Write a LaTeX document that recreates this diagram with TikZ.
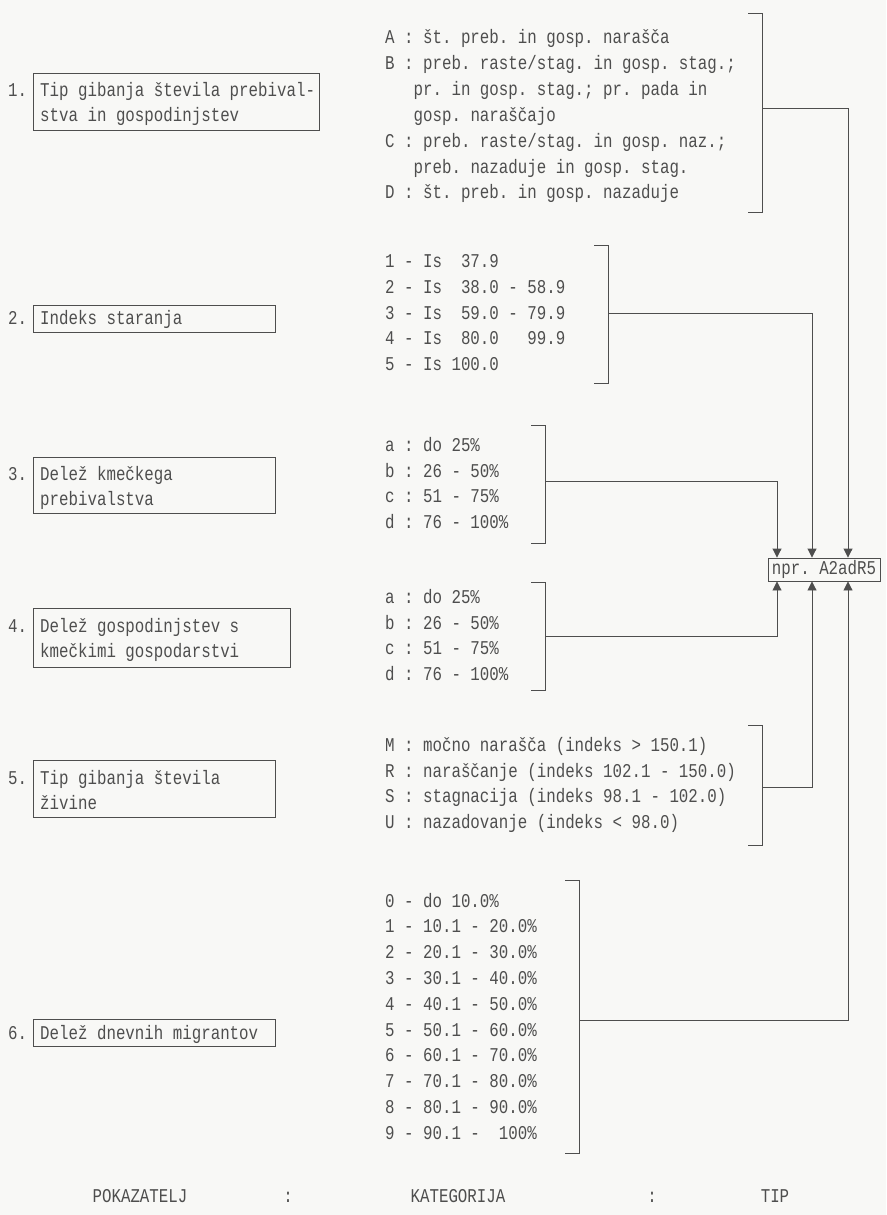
\documentclass[tikz,border=0pt]{standalone}
\usepackage{fontspec}
\setmonofont{Liberation Mono}[FakeStretch=0.81]
\usetikzlibrary{arrows.meta}
\definecolor{ink}{HTML}{4E4E4E}
\definecolor{paper}{HTML}{F8F8F6}
\begin{document}
\begin{tikzpicture}[x=1pt,y=-1pt,
  txt/.style={anchor=base west, inner sep=0pt, text=ink, font=\ttfamily\fontsize{19.5}{24}\selectfont},
  lbl/.style={anchor=base, inner sep=0pt, text=ink, font=\ttfamily\fontsize{19.5}{24}\selectfont},
  pbox/.style={draw=ink, line width=0.9pt, anchor=north west, inner sep=0pt},
  brk/.style={draw=ink, line width=0.9pt},
  conn/.style={draw=ink, line width=0.9pt},
  arr/.style={conn, -{Triangle[width=9pt,length=9pt]}}]
\useasboundingbox[fill=paper] (0,0) rectangle (886,1215);

% ---------- indicator boxes ----------
\node[pbox, minimum width=286pt, minimum height=57pt] (p1) at (33,73) {};
\node[txt] (n1) at (8,96) {1.};
\node[txt] (p1a) at (40,96) {Tip gibanja števila prebival-};
\node[txt] (p1b) at (40,121.5) {stva in gospodinjstev};

\node[pbox, minimum width=242pt, minimum height=27pt] (p2) at (33,305) {};
\node[txt] (n2) at (8,324.5) {2.};
\node[txt] (p2a) at (40,324.5) {Indeks staranja};

\node[pbox, minimum width=242pt, minimum height=56pt] (p3) at (33,457) {};
\node[txt] (n3) at (8,480) {3.};
\node[txt] (p3a) at (40,480) {Delež kmečkega};
\node[txt] (p3b) at (40,505.5) {prebivalstva};

\node[pbox, minimum width=257pt, minimum height=59pt] (p4) at (33,608) {};
\node[txt] (n4) at (8,632) {4.};
\node[txt] (p4a) at (40,632) {Delež gospodinjstev s};
\node[txt] (p4b) at (40,657.5) {kmečkimi gospodarstvi};

\node[pbox, minimum width=242pt, minimum height=57pt] (p5) at (33,760) {};
\node[txt] (n5) at (8,784) {5.};
\node[txt] (p5a) at (40,784) {Tip gibanja števila};
\node[txt] (p5b) at (40,809.5) {živine};

\node[pbox, minimum width=242pt, minimum height=27pt] (p6) at (33,1019) {};
\node[txt] (n6) at (8,1039) {6.};
\node[txt] (p6a) at (40,1039) {Delež dnevnih migrantov};

% ---------- category lists ----------
\foreach \t [count=\i from 0] in {
  {A : št. preb. in gosp. narašča},
  {B : preb. raste/stag. in gosp. stag.;},
  {~~~pr. in gosp. stag.; pr. pada in},
  {~~~gosp. naraščajo},
  {C : preb. raste/stag. in gosp. naz.;},
  {~~~preb. nazaduje in gosp. stag.},
  {D : št. preb. in gosp. nazaduje}}
  \node[txt] (ga-\i) at (385,{44+25.8*\i}) {\t};

\foreach \t [count=\i from 0] in {
  {1 - Is~~37.9},
  {2 - Is~~38.0 - 58.9},
  {3 - Is~~59.0 - 79.9},
  {4 - Is~~80.0~~~99.9},
  {5 - Is 100.0}}
  \node[txt] (gb-\i) at (385,{267.4+25.8*\i}) {\t};

\foreach \t [count=\i from 0] in {
  {a : do 25\%},{b : 26 - 50\%},{c : 51 - 75\%},{d : 76 - 100\%}}
  \node[txt] (gc-\i) at (385,{451.3+25.8*\i}) {\t};

\foreach \t [count=\i from 0] in {
  {a : do 25\%},{b : 26 - 50\%},{c : 51 - 75\%},{d : 76 - 100\%}}
  \node[txt] (gd-\i) at (385,{603.3+25.8*\i}) {\t};

\foreach \t [count=\i from 0] in {
  {M : močno narašča (indeks > 150.1)},
  {R : naraščanje (indeks 102.1 - 150.0)},
  {S : stagnacija (indeks 98.1 - 102.0)},
  {U : nazadovanje (indeks < 98.0)}}
  \node[txt] (ge-\i) at (385,{751.3+25.8*\i}) {\t};

\foreach \t [count=\i from 0] in {
  {0 - do 10.0\%},
  {1 - 10.1 - 20.0\%},
  {2 - 20.1 - 30.0\%},
  {3 - 30.1 - 40.0\%},
  {4 - 40.1 - 50.0\%},
  {5 - 50.1 - 60.0\%},
  {6 - 60.1 - 70.0\%},
  {7 - 70.1 - 80.0\%},
  {8 - 80.1 - 90.0\%},
  {9 - 90.1 -~~100\%}}
  \node[txt] (gf-\i) at (385,{907+25.8*\i}) {\t};

% ---------- brackets ----------
\draw[brk] (748,13) -- (762,13) -- (762,212) -- (748,212);
\coordinate (m1) at (762,108);
\draw[brk] (594,245) -- (608,245) -- (608,383) -- (594,383);
\coordinate (m2) at (608,313);
\draw[brk] (531,425) -- (545,425) -- (545,543) -- (531,543);
\coordinate (m3) at (545,481);
\draw[brk] (531,582) -- (545,582) -- (545,690) -- (531,690);
\coordinate (m4) at (545,636);
\draw[brk] (748,725) -- (762,725) -- (762,845) -- (748,845);
\coordinate (m5) at (762,787);
\draw[brk] (565,880) -- (579,880) -- (579,1153) -- (565,1153);
\coordinate (m6) at (579,1020);

% ---------- type node ----------
\node[draw=ink, line width=0.9pt, text=ink, inner sep=0pt,
      font=\ttfamily\fontsize{19.5}{24}\selectfont,
      minimum width=112pt, minimum height=23pt] (T) at (824,569.5) {npr. A2adR5};
\coordinate (c1) at (777,0);
\coordinate (c2) at (812,0);
\coordinate (c3) at (848,0);

\draw[arr] (m1) -| (c3 |- T.north);
\draw[arr] (m2) -| (c2 |- T.north);
\draw[arr] (m3) -| (c1 |- T.north);
\draw[arr] (m4) -| (c1 |- T.south);
\draw[arr] (m5) -| (c2 |- T.south);
\draw[arr] (m6) -| (c3 |- T.south);

% ---------- footer ----------
\node[lbl] (f1) at (140,1202) {POKAZATELJ};
\node[lbl] (f2) at (288,1202) {:};
\node[lbl] (f3) at (458,1202) {KATEGORIJA};
\node[lbl] (f4) at (652,1202) {:};
\node[lbl] (f5) at (775,1202) {TIP};
\end{tikzpicture}
\end{document}
